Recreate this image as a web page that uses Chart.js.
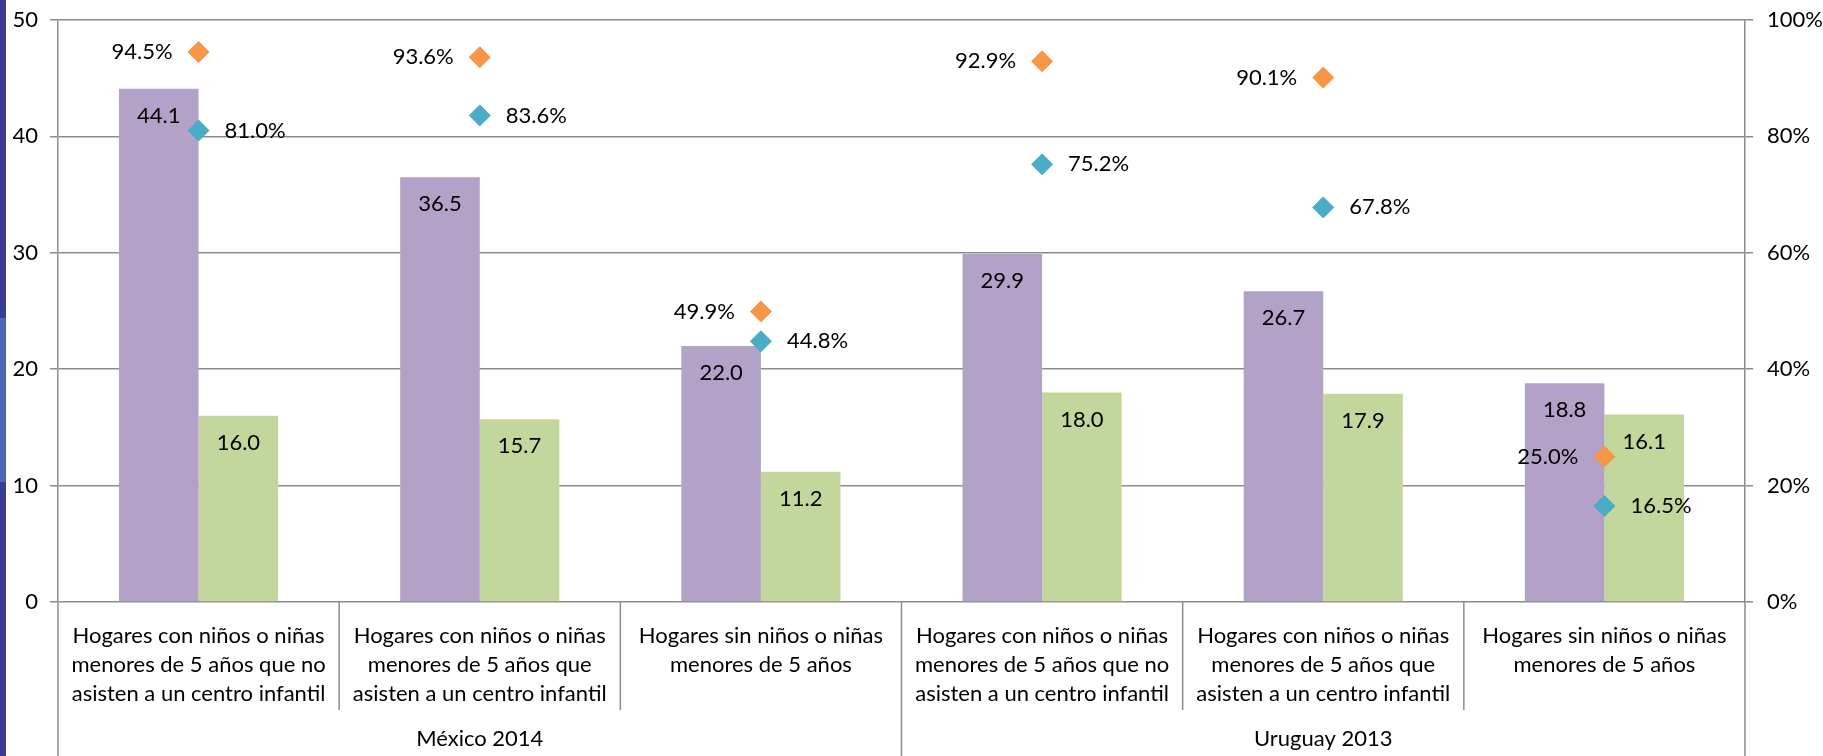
<!DOCTYPE html>
<html>
<head>
<meta charset="utf-8">
<script src="https://cdn.jsdelivr.net/npm/chart.js@4.4.1/dist/chart.umd.min.js"></script>
<style>
body{margin:0;background:#fff}
</style>
</head>
<body>
<canvas id="myChart" width="1823" height="756"></canvas>
<script>
var CATEGORIES=[
    ['Hogares con niños o niñas','menores de 5 años que no','asisten a un centro infantil'],
    ['Hogares con niños o niñas','menores de 5 años que','asisten a un centro infantil'],
    ['Hogares sin niños o niñas','menores de 5 años'],
    ['Hogares con niños o niñas','menores de 5 años que no','asisten a un centro infantil'],
    ['Hogares con niños o niñas','menores de 5 años que','asisten a un centro infantil'],
    ['Hogares sin niños o niñas','menores de 5 años']
];
var GROUPS=['México 2014','Uruguay 2013'];
var PURPLE_VALUES=[44.1,36.5,22.0,29.9,26.7,18.8];
var GREEN_VALUES=[16.0,15.7,11.2,18.0,17.9,16.1];
var ORANGE_PCT=[94.5,93.6,49.9,92.9,90.1,25.0];
var BLUE_PCT=[81.0,83.6,44.8,75.2,67.8,16.5];
var LEFT_TICKS=[0,10,20,30,40,50];
var RIGHT_TICKS=[0,20,40,60,80,100];

var FONT_FAMILY='Lato';
var FONT_SIZE=22;
var GRID='#8c8c8c';

// data labels, separators under the axis and the group names
var labelPlugin={
    id:'labels',
    beforeDraw:function(chart){
        var c=chart.ctx;
        c.save();
        c.fillStyle='#3c3c8e';
        c.fillRect(0,0,6,chart.height);
        c.fillStyle='#4a69b0';
        c.fillRect(0,318,6,164);
        c.restore();
    },
    afterDatasetsDraw:function(chart){
        var c=chart.ctx;
        c.save();
        c.font=FONT_SIZE+'px '+FONT_FAMILY;
        c.fillStyle='#000';
        c.textBaseline='middle';
        chart.data.datasets.forEach(function(ds,i){
            var meta=chart.getDatasetMeta(i);
            meta.data.forEach(function(el,j){
                var v=ds.data[j];
                if(i<2){
                    c.textAlign='center';
                    c.fillText(v.toFixed(1),el.x,el.y+27);
                }else if(i==2){
                    c.textAlign='right';
                    c.fillText(v.toFixed(1)+'%',el.x-26,el.y);
                }else{
                    c.textAlign='left';
                    c.fillText(v.toFixed(1)+'%',el.x+26,el.y);
                }
            });
        });
        c.restore();
    },
    afterDraw:function(chart){
        var c=chart.ctx, a=chart.chartArea;
        var n=CATEGORIES.length, w=(a.right-a.left)/n;
        c.save();
        c.strokeStyle=GRID;
        c.lineWidth=1.5;
        for(var i=0;i<=n;i++){
            var x=a.left+i*w;
            var bottom=(i%3==0)?chart.height:a.bottom+108;
            c.beginPath();
            c.moveTo(x,a.bottom);
            c.lineTo(x,bottom);
            c.stroke();
        }
        c.font=FONT_SIZE+'px '+FONT_FAMILY;
        c.fillStyle='#000';
        c.textAlign='center';
        c.textBaseline='middle';
        GROUPS.forEach(function(g,k){
            c.fillText(g,a.left+(k*3+1.5)*w,739);
        });
        c.restore();
    }
};

var ctx=document.getElementById('myChart');
var myChart=new Chart(ctx,{
    type:'bar',
    data:{
        labels:CATEGORIES,
        datasets:[
            {data:PURPLE_VALUES,backgroundColor:'#b3a2c7',yAxisID:'y',order:2},
            {data:GREEN_VALUES,backgroundColor:'#c3d69b',yAxisID:'y',order:2},
            {type:'line',data:ORANGE_PCT,yAxisID:'y1',showLine:false,pointStyle:'rectRot',
             pointRadius:10.5,pointBackgroundColor:'#f79646',pointBorderColor:'#f79646',pointBorderWidth:1,order:1},
            {type:'line',data:BLUE_PCT,yAxisID:'y1',showLine:false,pointStyle:'rectRot',
             pointRadius:10.5,pointBackgroundColor:'#4bacc6',pointBorderColor:'#4bacc6',pointBorderWidth:1,order:1}
        ]
    },
    options:{
        responsive:false,
        animation:false,
        devicePixelRatio:1,
        layout:{padding:{top:20,left:0,right:0,bottom:0}},
        datasets:{bar:{categoryPercentage:0.566,barPercentage:1.0}},
        plugins:{legend:{display:false},tooltip:{enabled:false}},
        scales:{
            x:{
                grid:{display:false},
                border:{display:false},
                ticks:{color:'#000',font:{family:FONT_FAMILY,size:FONT_SIZE,lineHeight:1.3},padding:12,maxRotation:0,autoSkip:false},
                afterFit:function(s){s.height=154;s.paddingLeft=0;s.paddingRight=0;}
            },
            y:{
                position:'left',min:0,max:50,
                afterBuildTicks:function(s){s.ticks=LEFT_TICKS.map(function(v){return {value:v};});},
                grid:{color:GRID,lineWidth:1.5,tickLength:8},
                border:{color:GRID,width:1.5},
                ticks:{color:'#000',font:{family:FONT_FAMILY,size:FONT_SIZE},padding:12},
                afterFit:function(s){s.width=58;s.paddingTop=0;s.paddingBottom=0;}
            },
            y1:{
                position:'right',min:0,max:100,
                afterBuildTicks:function(s){s.ticks=RIGHT_TICKS.map(function(v){return {value:v};});},
                grid:{drawOnChartArea:false,color:GRID,lineWidth:1.5,tickLength:8},
                border:{color:GRID,width:1.5},
                ticks:{color:'#000',font:{family:FONT_FAMILY,size:FONT_SIZE},padding:14,
                    callback:function(v){return v+'%';}},
                afterFit:function(s){s.width=78;s.paddingTop=0;s.paddingBottom=0;}
            }
        }
    },
    plugins:[labelPlugin]
});
</script>
</body>
</html>
